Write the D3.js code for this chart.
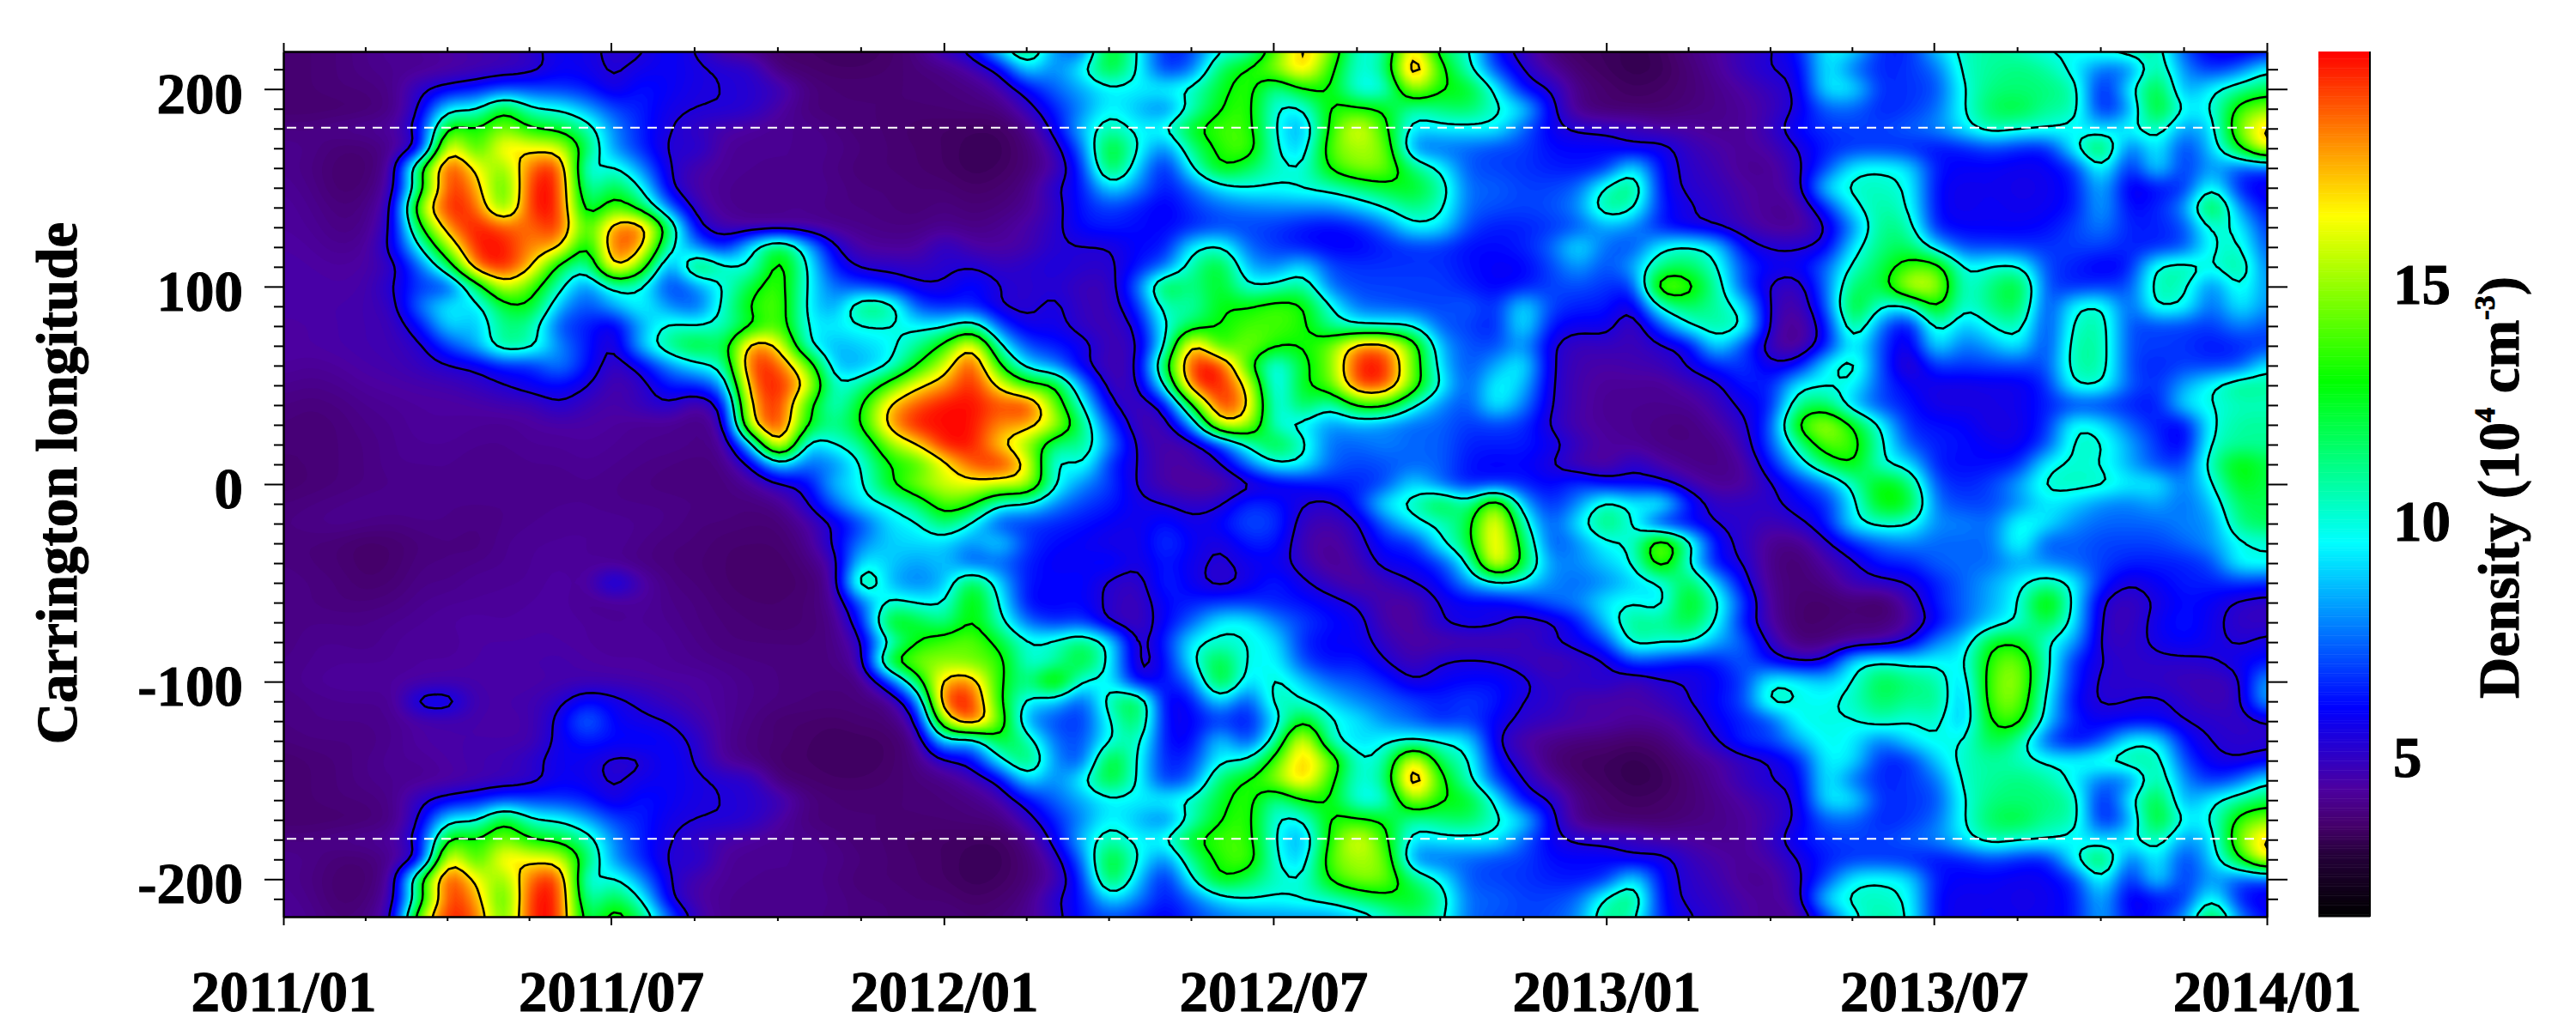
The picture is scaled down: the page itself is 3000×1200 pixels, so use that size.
<!DOCTYPE html>
<html>
<head>
<meta charset="utf-8">
<script src="https://cdn.jsdelivr.net/npm/d3@7"></script>
<style>
  body { margin: 0; background: #fff; }
  text { font-family: "Liberation Serif", serif; font-weight: bold; fill: #000; stroke: #000; stroke-width: 1px; }
</style>
</head>
<body>
<div id="chart"></div>
<script>
// tick labels
const dateLabels = ["2011/01", "2011/07", "2012/01", "2012/07", "2013/01", "2013/07", "2014/01"];
const lonLabels = [-200, -100, 0, 100, 200];
const cbarLabels = [5, 10, 15];
const contourLevels = [5.5, 10, 13, 17];
const dashedLons = [180, -180];

// density (10^4 cm^-3): one row per 10 deg from 180 down to -170,
// one column per half month from 2011/01 to 2014/01
const density = [
  [4,4,4.2,4.3,4.4,6,14,13,15,13,12.5,11,8,6.5,5.5,5,4.6,4.4,4.2,4.2,4,3.8,3.8,3.6,3.6, 3.5,3.5,4,5.8,9,11,9.5,10,13,14,14,9.8,8,13.5,17,13.5,9,9.5,9.5,9.8,7.5,5.8,5.3,5.2, 5,4.5,4.5,4.2,4.3,5,6.3,6.8,7,7,7.5,8,9.5,11,10.2,10.2,9.5,9,9.8,11,8,9,15,18],
  [4.2,4.1,3.8,3.8,4.2,5,18,13,17.5,16.5,16.5,12,8,6.6,5.2,5.5,4.3,4.2,4.2,4.2,4.1,3.9,3.8,3.7,3.6, 3.4,3.4,3.8,4.8,7.5,13.5,10,7.5,11.5,13.5,14.5,10,8.5,14.5,15.5,15,7.5,7.5,7.5,7,7,6.2,6.2,6.2, 5.5,6,5,4.6,4.3,4.6,5.5,6.5,6.8,6.8,6.5,6.2,6.4,7,6.5,6.2,9.8,13,7,10,6.5,9,13,17.5],
  [4.2,4,3.7,3.7,4.3,13.5,20,16.5,14.5,19,20,9,10.5,8,5.4,4.6,4.3,4.2,4.2,4.2,4,3.8,3.8,3.7,3.6, 3.4,3.5,3.8,4.5,6.5,13,9,6,10,13.5,12,10.5,9.8,13.5,15,14.8,11.5,9.8,7.2,7,6.8,6.5,6.3,6.5, 10,6,5.2,4.8,4.2,4.2,5.2,7,9.8,10,9.5,6.3,6,6,5.8,5.9,6.5,10.5,6,9.8,6.5,8.5,7,7],
  [4.3,4.1,3.7,3.8,4.6,12,20,18,13,20,20,10,12.5,10,5.4,4.5,4.2,4.1,4.1,4.2,4.1,3.9,3.9,3.8,3.8, 3.6,3.7,4,5.4,6.3,9.5,8,6.2,7.5,9.3,10,9.8,10.3,10.5,11.5,12.5,13,11,7.5,7.5,7,7,7.5,10.5, 12,6,5.3,5,4.5,4.3,4.8,9.5,10.5,10.5,10,6,5.8,5.9,5.7,5.8,6.3,9,5.5,6.2,6.5,10.5,6.2,5.6],
  [4.4,4.2,3.9,4,5,16,20,19,13.5,20,20,11,14.5,12,7.5,4.8,4.2,4.1,4.2,4.2,4,4,3.9,3.8,4, 3.8,3.9,4.2,5,6.5,7,6.5,5.8,6.8,7.5,7.8,8,8,8,8.8,10,11.5,10.5,7.5,7.2,7,7.2,8,11.5, 10.5,6.4,5.6,5.2,4.6,4.2,4.3,6.5,9.8,11,10.2,6,5.8,6,5.8,5.9,6.3,8.8,6,6.5,8,13.5,8,6],
  [4.4,4.3,4,4.1,5.4,13,18.5,20,19,18.5,20,13,18.5,19,12,5.5,4.6,4.3,4.2,4.3,4.2,4.1,4,4,4.2, 4,4.2,4.6,5.2,6.3,6.5,6.2,6.1,6.5,7,7,6.8,6.3,6,6.4,7.5,9.8,9.5,7,6.4,6.5,6.8,7.2,8.5, 8,6.3,5.6,5.3,4.8,4.3,4.2,5.2,8,11.5,11,6.2,6,6,6,6.2,7,8,6.5,6.5,7,10.5,9.8,6.5],
  [4.5,4.4,4.2,4.3,5.8,10,15.5,20,20,18,18,11.5,19.5,18,10,8,6,9.8,13,9,5.5,4.4,4.3,4.3,5.3, 4.5,4.4,4.6,5.4,5.4,5.4,6.2,6.2,9.8,10.5,7.5,6.8,6.3,6,6,6.5,6.8,6.8,6.2,6.2,6.5,7.5,9.8,7.5, 7,9.8,10.5,9.5,6,5.4,5.4,5.7,9.5,11.5,12,9,7,7,6.8,6.8,7,7,6.5,6.5,7,10,10.5,7],
  [4.6,4.5,4.4,4.5,5,7.5,11.5,19,20,17.5,12,9.8,18.5,14.5,7,13,10.5,9.8,14.5,10,6.3,5.2,5.2,5,5.3, 5.5,5,5.3,5.6,5.3,5.2,6.3,7.5,11,13,8.5,7.8,9.6,7,6.8,6.8,6.8,6.8,6.3,6,6,7,8.5,7, 8.5,11.5,12,10.3,7,6,6,7.5,10.5,12,14,14.5,9.5,10.3,10.5,7,6.5,5.8,6.2,10.5,11,9.8,11.5,7.5],
  [4.6,4.6,4.5,4.6,5.5,7,6.5,11.5,16.5,14,10.5,7.5,10.5,10,6.5,8,10,12.5,14.3,9.8,7.5,7,6.3,5.6,5.5, 6.5,5.5,5.2,5.4,4.8,4.8,7.5,13,11,13,9.8,10.3,11.5,7.5,7,7,7,7,6.5,6,6.3,7,7.2,6.8, 6.5,15.5,14,11,7,5.2,4.8,7.5,12,12,16.5,16,9.8,11.5,13,7,6.5,6.8,7,11,10.5,7.5,10.5,8],
  [4.6,4.6,4.6,4.7,5,8,9.8,9,12.5,13,8.5,7,8.5,10,8,7,10.5,13.5,14.5,9.5,8,12,11.5,7,6.5, 6.5,5.3,5.2,5.8,4.9,4.8,6.5,11,10.5,13,13,14,13.5,10,7.5,7.3,7,7,7.5,6.5,9.8,7,6.5,6.5, 5.2,10.5,12,11,9.5,5,4.4,7,13.5,9.8,9.5,14,9.8,11.5,12.5,6.5,10,10.5,7,10.5,10,7.2,9.8,8],
  [4.4,4.5,4.6,4.7,4.8,6.2,9.5,8.5,11.5,11,7,6.5,5.4,8.5,10.5,10,10.5,12.5,14.5,9.5,9.5,10,10,9.6,9.6, 11.5,7,5.6,5.9,5,4.7,5.5,10,12,13,14,14,13.5,11,9.8,9.8,10,7.3,7,6.3,10,6.2,5.8,6, 4.5,7,10,11,10.5,4.8,4,6,12,7.5,5.5,11,8.5,10,11,6.5,10.5,11,7,7,7,6.8,8,7.2],
  [4.5,4.5,4.6,4.7,4.8,5.2,7,8.5,11.5,10.8,8,6.5,5,9,11.5,13,11.5,19,17,9.8,8.5,9,9.5,11,13.5, 18,10,7,6.4,6,4.7,5,9.5,19,13,15,13.3,13,14.5,18.5,18.5,14.5,8.5,7.2,7,8.5,5.5,4.8,5, 4.8,5.3,5.6,9.8,7,4.6,4,6.2,10,7,5.2,9.8,7.5,8.5,9.8,6.5,11,11,7,7,6.8,6.3,6.5,6.8],
  [4.4,4.3,4.4,4.6,4.7,5,5.4,5.6,6.5,6.5,8.2,6.3,4.8,5.8,8,9.5,10.5,20,19,15,8.5,8.5,9.6,13,16, 20,13,9,8,5.6,4.6,5,12.5,20,20,13.5,9,12.5,14.5,20,20,14.5,9,7,8.5,10,5.4,4.7,4.5, 4.7,4.8,5.6,6.5,7,5.6,6,9.8,11,7,4.7,7,6.8,7,7,7,11,11,7,6.5,7,6.8,7,9.8],
  [4.2,4.1,4.2,4.4,4.5,4.6,4.7,5,5.4,6,6.2,5.6,4.5,5,6.5,6.5,8,19,20,17,9.8,11,14,16.8,18, 20,16.5,13.5,13.5,8,4.7,5,9.8,19.5,20,17,8.5,13,14,19.5,19.5,14.5,9.8,7,10,9,5.4,4.6,4.3, 4.3,4.2,4.7,5.2,6.5,6.4,9.8,9.8,9.8,7,6,5.6,5.6,5.7,5.7,6.5,10.3,10.3,7.3,6.6,8.5,10,11.5,11],
  [4,3.9,4,4.2,4.3,4.4,4.4,4.5,4.7,4.7,5.5,4.8,4.5,5,5.5,4.2,5.5,18,20,13.5,9.8,13,17.5,19,20, 20,19,20,14.5,10,5.5,4.7,5.5,13,20,18,9,12.5,10,13.5,13.5,10,8,7,10,8,5.4,4.6,4.2, 4.2,4.2,4.2,4.8,5.8,6.3,11.5,12,8.5,7,6.4,5.6,5.6,5.7,5.8,6.5,6.8,6.7,6.5,6.2,9.5,10,10.5,10.5],
  [3.9,3.8,3.9,4.1,4.2,4.4,4.4,4.3,4.2,4.4,4.5,4.5,4.4,4.2,4.2,4,4.4,17.5,20,13,11,13,18,20,20, 20,18,18,16,11.5,7,4.7,4.6,8,17,16,9.8,9.5,8,8.5,8,7.5,7.5,6.8,7,6.8,5.3,4.5,4.3, 4.2,4,3.9,4.4,5.2,7,14,16,13,9.8,6.5,6.3,6.2,5.45,5.7,6.5,10.3,9.5,7.5,6.5,5.7,10,11,11],
  [3.8,3.8,3.9,4,4.2,4.3,4.3,4.2,4.2,4.3,4.3,4.4,4.3,4.2,4.2,4.1,4.1,9,19,8.5,10,11,15,17,20, 20,17,15,11,11.5,8,5.2,4.5,4.6,6.5,10.3,13,10.5,7.5,7.5,8,7.5,7.5,6.5,6.5,6.5,6,5,4.4, 4.3,4,4,4,4.8,7.2,11,14.5,14,10.3,7.2,6.5,6.3,6,5.7,7,10.5,10.3,8.5,6.8,5.6,10.5,11,11],
  [3.8,3.8,3.9,4,4.2,4.2,4.2,4.1,4.1,4.2,4.2,4.3,4.2,4.1,4,3.9,4,5.5,9.3,7.5,7.8,10,13,13.5,16.5, 19,20,17,9,10.5,6.5,5.5,4.4,4.6,5.2,7.5,10,9.8,7.5,7,7.2,7.5,7.5,6.3,6,6.2,5.5,4.5,4.2, 5.4,4.5,4.1,4,4.3,6.3,9,12,13.5,9.8,9.5,6.3,6.2,6.2,6.5,9.8,10.3,10,8.5,7,6.8,11,13.5,12],
  [3.7,3.8,3.9,4,4.1,4.1,4.2,4.2,4.2,4.1,4.1,4.2,4.1,4,3.9,3.9,3.9,4.3,5.2,5.8,9,9.6,13,15,16, 16.5,16,16.3,10,8,7,5.3,4.5,4.2,4.2,5,5.5,6,6.5,6.5,7,9.5,7.5,6.3,6.5,6.5,6,7,6, 6,5.8,4.8,4.2,4.3,5.3,6.5,7.8,10.5,13.5,12,7,6.5,7,8.5,10.5,10.5,10.5,9.5,9.8,7.5,9.8,13,12],
  [3.9,4,4.1,4.2,4.2,4.2,4.1,4.1,4.1,4.1,4.2,4.2,4.1,4.1,4.1,4,4,3.9,4.1,5.3,7.5,9.6,10,11.5,14.5, 13.5,9.8,9.8,8,7,6.5,5.8,5.5,5,5.3,6.8,6.5,5.5,5.2,6.5,9.8,10.5,13,10.5,16,8.5,6.5,8,11, 9.5,10.5,6.5,5,5.2,5.2,6,6.5,9.5,13.5,13,7.5,7,7,8,9.5,9,8,7.8,8.5,7.5,8.8,12,12],
  [4,4.1,4.2,4.1,4,4.1,4.1,4,4.1,4.2,4.3,4.3,4.3,4.2,4.1,3.9,3.9,3.8,3.8,4.4,5.5,7,9.3,9.6,12, 9.6,6.8,6.8,6.6,6.3,6,5.7,6.5,5.7,6.2,7.3,7,4.9,4.6,5.2,7.5,9.5,10.3,12,18,10.5,7,9.5,12, 10,6,6,5.4,5.2,4.7,5.2,6.3,9.8,10.5,10.2,8,8,7.5,10.2,9.5,8,7.5,7.5,7.5,8,8,11.5,12],
  [3.9,3.9,3.8,3.6,3.7,3.9,4,3.9,4.2,4.3,4.3,4.3,4.3,4.1,3.9,3.9,3.7,3.7,3.7,4.1,5.7,8,9,9.2,9, 8,9.6,6.8,6.2,6,5.6,5.6,7,6,5.4,6.5,6.5,4.7,4.2,5,6.5,6.5,9.8,12,18,12,7,8,9.8, 10,16,11,6,5.2,4.1,4,5.2,6.5,7.5,8,7.5,7.5,7.5,10.5,7,7.5,7,7,7,7.5,8.2,9.8,10],
  [4,3.9,3.8,3.6,3.7,4,4,4.1,4.2,4.3,4.4,4.3,4.2,4,3.9,3.8,3.7,3.6,3.6,3.9,4.6,9.8,9,8.2,9, 7,7.5,6.5,5.9,6,6.5,5.5,6.5,5.8,5.2,5.8,6,5,4.1,4.6,6,6,6.8,9.8,18,12.5,8,8,9, 9.8,15,9.8,6,5.5,4,3.7,4.5,5.3,6.5,6.5,7.5,7.6,7.5,8.5,8,7.5,7,6.5,6.5,6.5,7,10,10],
  [4.1,4,3.9,3.7,3.8,4.1,4.1,4.3,4.3,4.3,4.5,4.3,6.2,4.6,4,3.9,3.7,3.6,3.6,3.7,4.2,12.5,8.5,7.7,8.5, 13,9,6.2,6.2,6.3,5.2,4.9,6.8,5.8,5,5.7,6.6,5.7,4.9,4.2,4.8,5.5,6,8.3,9.8,9.6,8,7.5,8, 9,9.6,12.5,9,5.8,4.1,3.8,4,5,5.2,5.5,6.5,7.5,8.5,9.6,11,9.8,6.5,5.4,6,6.5,6.5,6.8,6.5],
  [4.1,4,3.9,3.9,4,4.2,4.3,4.3,4.3,4.4,4.5,4.2,4.2,4.4,4.1,4,3.8,3.7,3.7,3.8,4.2,7.5,10.5,9.8,9.6, 14,9.8,6,6,6.2,5.2,4.7,6.2,6.5,6.8,6.8,6.5,6.3,5.9,5.4,4.4,4.4,5.6,5.9,5.6,6.3,7.5,8,9.6, 10,9,13.5,10.5,6.8,4.2,3.7,3.6,3.8,3.4,4.7,6.5,7.5,8.5,9.8,14.5,9.5,5.2,4.8,5.6,6.3,6,5.2,5],
  [4,4.1,4.1,4.1,4.2,4.3,4.4,4.5,4.4,4.5,4.5,4.4,4.3,4.3,4.2,4,3.9,3.8,3.7,3.8,4,6.2,13.5,12.5,11, 13.5,10.5,7.5,6.5,7,5,4.7,6,7.5,9.8,9.8,8,7,6.3,6,4.5,4.3,5.5,6,5.8,5,5.1,6.3,9, 11.5,11,12.5,10,6.2,4.4,3.6,3.7,3.9,3.8,4.3,6,7.5,9,10,12.5,9.5,5,4.8,5.9,6.5,5.8,5,5],
  [4,4.2,4.2,4.1,4.3,4.4,4.3,4.5,4.5,4.5,4.5,4.4,4.3,4.4,4.3,4.1,3.9,3.9,3.9,3.9,4,5,10,13,14, 14.5,12.5,10,10.5,12,9.8,4.7,6.5,9.8,10.3,10,9.5,6.5,6,6,5,4.4,4.4,4.5,4.5,4.8,5.5,5.8,6.8, 11,10.3,10.3,8.5,7.5,5,3.8,3.9,4.2,4.4,5.4,8,9,13,13,10,8.5,5,5,5.8,6.2,5.8,5.3,5.8],
  [4.1,4.2,4.3,4.3,4.3,4.4,4.4,4.5,4.6,4.6,4.7,4.5,4.4,4.4,4.3,4.2,4.1,4,4,3.9,4,4.5,13.5,15,15, 14.5,14,9.8,10.5,13,9.7,4.7,6,9.8,13,9.5,9.9,7,6.2,6.5,5.5,4.7,5.5,5.7,5.5,5,4.5,5,5.2, 7,6.5,6,6.3,7.5,6,5.2,5.5,9.8,10.3,9.6,9.8,9.5,14,15,10.5,6.5,5.5,5.1,5.2,5.2,5.4,6,6.3],
  [4.1,4.3,4.4,4.4,4.4,4.5,4.6,4.6,4.5,4.5,4.6,4.7,4.7,4.6,4.5,4.5,4.3,4.1,4,3.9,3.9,3.9,6.5,12,18, 18.5,13,11,15,9.5,9.8,5.5,6.3,7.5,13.5,8.8,10.5,9,7.5,7.2,6.6,5.4,6,6.2,6.3,5.8,5,5.2,5.4, 4.6,5.4,5.5,6,6.8,10.3,9.8,9,10,12.5,11.5,11,8.5,14.5,15.5,10,6.5,5.2,5.2,5.1,4.8,4.7,5,9],
  [4,4.1,4.2,4.2,4.2,6.2,6.2,4.6,4.6,4.7,5.2,6.3,5.8,5.3,4.8,4.5,4.3,4.1,4,3.9,3.9,3.9,4,6.8,20, 20,13,9.3,9,6.8,11,13,5.5,6.2,9.5,6.5,11,10,9,8,7.5,7,6.5,7,6.5,5.4,5.3,4.5,4.5, 4.5,4.8,5.5,6.2,7,11,9.8,9.7,10.5,12,11,11.5,8,14.5,15,9.5,6,5.3,5.5,5.7,5.2,4.7,5,9],
  [4,4.1,4.1,4.1,4.2,4.5,4.6,4.6,4.5,4.6,5.7,8,6,5.7,5.5,4.8,4.3,4,3.7,3.7,3.6,3.8,3.8,4.8,16, 20,14.5,8,7,6.6,9.9,12.5,5.8,6,6.8,6,9,13.5,10,9.5,8,7.5,6.5,7,6,5.2,4.9,4.7,4.6, 4.3,4.4,4.8,6,6.5,7,10,10,9.8,10.8,9.9,10.5,8.3,13.5,14,9,6.5,5.8,6,6,5.4,5.3,5,5.3],
  [3.9,4,4,4,4.2,4.5,4.6,4.6,4.6,4.6,5.8,6.5,6.2,6.3,6,5.3,4.2,3.9,3.8,3.6,3.5,3.5,3.6,4,9.5, 8,13,11,7.5,7,10,11,6,6,9.5,6.5,10.5,18,10,9,9.8,9.9,9.9,9.5,5.5,4.4,4.1,3.9,3.8, 3.6,3.8,4.5,5.4,6.8,7,8.5,10,9.5,7.5,9.3,10,9.8,12.5,11,7,5.8,7,9.9,9.8,6.2,5.4,5.2,5.3],
  [3.7,3.8,3.9,4.1,4.3,4.3,4.5,4.7,4.8,5.2,6,5.8,5.2,5.3,6.2,5.4,4.3,4,3.6,3.6,3.5,3.5,3.6,4,5.2, 5.8,9.6,12.5,8,6.8,13.5,9.9,6.3,6.8,9.9,9.9,14,18,15,9.8,10.5,18,11.5,10.5,6,5,3.8,3.5,3.5, 3.3,3.5,4,4.4,5,5.4,6.3,9.8,9.4,6.5,6.5,9,10.5,11,10.5,9.8,9.8,10.5,11,11,7,5.7,5.4,5.8],
  [3.7,3.8,3.9,4.1,4.2,4.2,4.4,4.6,4.8,5,6,5.8,5.3,5.8,6,5.7,5.4,5.3,3.8,3.7,3.6,3.6,3.7,3.9,4, 4.6,5.5,9.5,7.8,9.8,13,9.9,6.5,7.5,12,13.3,15,18,13.5,9.8,11,20,13.5,10.5,7,5.4,4.4,3.7,3.5, 3.3,3.4,3.8,4.3,5,5.6,5.7,9.9,7.5,6.5,6.8,7.5,10.5,11,11.5,11,9.5,7.5,7.5,11.5,8,6.5,7.5,9.9],
  [3.7,3.8,3.9,3.9,4.1,5.3,5.8,6.3,7,7,6.8,6.5,5.4,6.5,6,5.6,5.5,5.3,5,4,3.8,3.8,3.8,3.8,3.9, 4,4.5,6,7.5,8.5,9.5,9.5,9.8,10.5,12.5,14,10.5,13,13.2,9.5,9.6,16,13,13,9.8,6,5.5,4,3.7, 3.5,3.6,3.8,4.1,4.5,5,5.5,9.7,9.6,6.6,6.8,7,10,11.5,11.5,11.5,11,5.8,9.5,13,8,9.8,11,12],
  [3.7,3.7,3.7,3.8,4,5.5,9.8,9.5,13.5,10,9.9,8.5,7,6.5,5.7,5.5,5.5,5.3,4.5,3.9,3.8,3.8,3.8,3.8,3.8, 3.9,3.9,5,6.5,8,9.8,8.7,7.5,10.5,13,14,9.7,9.5,13.5,13.3,13,10.5,11.5,12,10.3,9.5,5.8,4,3.7, 3.7,3.7,3.9,4.1,4.3,4.8,5.6,7.5,7.5,6.5,6.8,7.5,10,12,12.5,11,11,6,8,13.5,9.5,9.8,14,15]
];

// set the dimensions of the graph
const left = 330, right = 2640, top_ = 60, bottom = 1068;
const cbarLeft = 2700, cbarRight = 2760;
const parseDate = d3.timeParse("%Y/%m");
const majorDates = dateLabels.map(parseDate);

const x = d3.scaleTime().domain([majorDates[0], majorDates[6]]).range([left, right]);
const y = d3.scaleLinear().domain([-219, 219]).range([bottom, top_]);

// rainbow table of the colour bar
const color = d3.scaleLinear()
  .domain([1.7, 3, 3.6, 4.4, 6.1, 9.6, 13, 16.5, 20])
  .range(["#000000", "#25003a", "#45006a", "#4c00a0", "#0000ff", "#00ffff", "#00ff00", "#ffff00", "#ff0000"])
  .clamp(true);

const svg = d3.select("#chart").append("svg")
  .attr("width", 3000)
  .attr("height", 1200)
  .style("display", "block");

// the plot repeats past +-180, so extend the rows to +-220 from the other end
const lons = d3.range(220, -221, -10);
const rows = lons.map(lon => density[(((180 - lon) % 360) + 360) % 360 / 10]);

// fine grid so the field is smooth, then a small blur
const nCols = rows[0].length, nRows = rows.length, f = 4;
const w = (nCols - 1) * f + 1, h = (nRows - 1) * f + 1;
const field = new Float64Array(w * h);
for (let j = 0; j < h; j++) {
  const r0 = Math.floor(j / f), r1 = Math.min(r0 + 1, nRows - 1), tr = j / f - r0;
  for (let i = 0; i < w; i++) {
    const c0 = Math.floor(i / f), c1 = Math.min(c0 + 1, nCols - 1), tc = i / f - c0;
    field[j * w + i] = (rows[r0][c0] * (1 - tc) + rows[r0][c1] * tc) * (1 - tr)
      + (rows[r1][c0] * (1 - tc) + rows[r1][c1] * tc) * tr;
  }
}
d3.blur2({data: field, width: w, height: h}, 1, 1);

// grid position to pixels
const gx = d3.scaleLinear().domain([0.5, w - 0.5]).range([left, right]);
const gy = d3.scaleLinear().domain([0.5, h - 0.5]).range([y(220), y(-220)]);
const path = d3.geoPath(d3.geoTransform({
  point: function(px, py) { this.stream.point(gx(px), gy(py)); }
}));

svg.append("clipPath").attr("id", "plotClip")
  .append("rect")
    .attr("x", left).attr("y", top_)
    .attr("width", right - left).attr("height", bottom - top_);

const plot = svg.append("g").attr("clip-path", "url(#plotClip)");

plot.append("rect")
  .attr("x", left).attr("y", top_)
  .attr("width", right - left).attr("height", bottom - top_)
  .attr("fill", color(3));

// filled bands
const contours = d3.contours().size([w, h]);
plot.append("g").selectAll("path")
  .data(contours.thresholds(d3.range(3, 20.01, 0.1))(field))
  .join("path")
    .attr("d", path)
    .attr("fill", d => color(d.value));

// black contour lines
plot.append("g").selectAll("path")
  .data(contours.thresholds(contourLevels)(field))
  .join("path")
    .attr("d", path)
    .attr("fill", "none")
    .attr("stroke", "#000")
    .attr("stroke-width", 2.5);

// dashed +-180 lines
plot.append("g").selectAll("line")
  .data(dashedLons)
  .join("line")
    .attr("x1", left + 4).attr("x2", right)
    .attr("y1", d => y(d) - 1).attr("y2", d => y(d) - 1)
    .attr("stroke", "#fff")
    .attr("stroke-width", 2)
    .attr("stroke-dasharray", "11 9");

// minor ticks: three between every pair of labelled dates
const minorDates = [];
d3.pairs(majorDates).forEach(([a, b]) => {
  d3.range(1, 4).forEach(k => minorDates.push(new Date(+a + (b - a) * k / 4)));
});
const minorLons = d3.range(-210, 211, 10).filter(d => d % 100 !== 0);

function styleAxis(g) {
  g.selectAll(".domain, line").attr("stroke", "#000").attr("stroke-width", 2);
  g.selectAll("text").style("font-size", "67px").attr("fill", "#000");
}

// bottom axis
svg.append("g").attr("transform", `translate(0,${bottom})`)
  .call(d3.axisBottom(x).tickValues(minorDates).tickSize(5).tickSizeOuter(0).tickFormat(""))
  .call(styleAxis);
const bottomAxis = svg.append("g").attr("transform", `translate(0,${bottom})`)
  .call(d3.axisBottom(x).tickValues(majorDates).tickSize(10).tickSizeOuter(0)
    .tickPadding(52).tickFormat(d3.timeFormat("%Y/%m")))
  .call(styleAxis);
bottomAxis.selectAll("text").attr("dy", "0.71em");

// top axis
svg.append("g").attr("transform", `translate(0,${top_})`)
  .call(d3.axisTop(x).tickValues(minorDates).tickSize(5).tickSizeOuter(0).tickFormat(""))
  .call(styleAxis);
svg.append("g").attr("transform", `translate(0,${top_})`)
  .call(d3.axisTop(x).tickValues(majorDates).tickSize(10).tickSizeOuter(0).tickFormat(""))
  .call(styleAxis);

// left axis
svg.append("g").attr("transform", `translate(${left},0)`)
  .call(d3.axisLeft(y).tickValues(minorLons).tickSize(11).tickSizeOuter(0).tickFormat(""))
  .call(styleAxis);
const leftAxis = svg.append("g").attr("transform", `translate(${left},0)`)
  .call(d3.axisLeft(y).tickValues(lonLabels).tickSize(22).tickSizeOuter(0).tickPadding(25).tickFormat(d => String(d)))
  .call(styleAxis);
leftAxis.selectAll("text").attr("dy", "0.41em");

// right axis
svg.append("g").attr("transform", `translate(${right},0)`)
  .call(d3.axisRight(y).tickValues(minorLons).tickSize(13).tickSizeOuter(0).tickFormat(""))
  .call(styleAxis);
svg.append("g").attr("transform", `translate(${right},0)`)
  .call(d3.axisRight(y).tickValues(lonLabels).tickSize(24).tickSizeOuter(0).tickFormat(""))
  .call(styleAxis);

// y title
svg.append("text")
  .attr("transform", `translate(89,563) rotate(-90)`)
  .attr("text-anchor", "middle")
  .style("font-size", "67px")
  .text("Carrington longitude");

// colour bar
const cbarScale = d3.scaleLinear().domain([1.7, 20]).range([bottom, top_]);
const cbarSteps = d3.range(1.7, 20, 0.05);
svg.append("g").selectAll("rect")
  .data(cbarSteps)
  .join("rect")
    .attr("x", cbarLeft)
    .attr("width", cbarRight - cbarLeft)
    .attr("y", d => cbarScale(d + 0.05))
    .attr("height", d => cbarScale(d) - cbarScale(d + 0.05) + 0.5)
    .attr("fill", d => color(d));
svg.append("line")
  .attr("x1", cbarRight).attr("x2", cbarRight)
  .attr("y1", top_).attr("y2", bottom)
  .attr("stroke", "#000").attr("stroke-width", 2);

svg.append("g").selectAll("text")
  .data(cbarLabels)
  .join("text")
    .attr("x", 2787)
    .attr("y", d => cbarScale(d) + 19)
    .style("font-size", "67px")
    .text(d => d);

// colour bar title, with superscripts
const cbarTitle = svg.append("text")
  .attr("transform", `translate(2933,568) rotate(-90)`)
  .attr("text-anchor", "middle")
  .style("font-size", "67px");
cbarTitle.append("tspan").text("Density (10");
cbarTitle.append("tspan").attr("dy", -28).style("font-size", "34px").text("4");
cbarTitle.append("tspan").attr("dy", 28).text(" cm");
cbarTitle.append("tspan").attr("dy", -28).style("font-size", "34px").text("-3");
cbarTitle.append("tspan").attr("dy", 28).text(")");
</script>
</body>
</html>
